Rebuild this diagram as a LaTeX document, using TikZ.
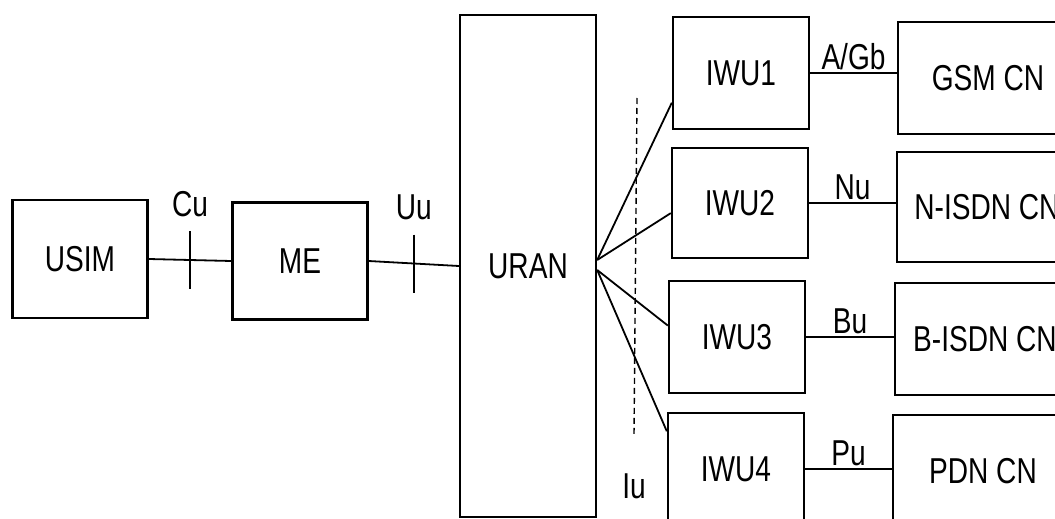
\documentclass[tikz,border=0pt]{standalone}
\usepackage{fontspec}
\setmainfont[FakeStretch=0.78]{Liberation Sans}
\usetikzlibrary{positioning, calc}
\tikzset{
	blk/.style ={rectangle, draw=black, line width=1.2pt, inner sep=0pt, align=center},
	iwubox/.style ={blk, minimum width=68pt, minimum height=56pt},
	cnbox/.style ={blk, minimum width=90pt, minimum height=56pt},
	link/.style ={line width=0.9pt},
	tickmark/.style ={line width=0.9pt},
	ifc/.style ={inner sep=0pt},
}

\begin{document}
\begin{tikzpicture}[x=0.5pt, y=-0.5pt, font=\fontsize{18}{21}\selectfont]
	\useasboundingbox (0,0) rectangle (1055,519);
	\clip (0,0) rectangle (1055,519);
	% terminal side
	\node[blk, minimum width=67.5pt, minimum height=59pt] (usim) at (80,259) {USIM};
	\node[blk, minimum width=67.5pt, minimum height=58.5pt] (me) at (300,261) {ME};
	\node[blk, minimum width=68pt, minimum height=251pt] (uran) at (528,266) {URAN};
	% interworking units
	\node[iwubox] (iwu1) at (741,73) {IWU1};
	\node[iwubox, minimum height=55pt] (iwu2) at (740,203) {IWU2};
	\node[iwubox] (iwu3) at (737,337) {IWU3};
	\node[iwubox] (iwu4) at (736,469) {IWU4};
	% core networks
	\node[cnbox] (gsm) at (988,78) {GSM CN};
	\node[cnbox, minimum height=55pt] (nisdn) at (987,207) {N-ISDN CN};
	\node[cnbox] (bisdn) at (985,339) {B-ISDN CN};
	\node[cnbox] (pdn) at (983,471) {PDN CN};
	% Cu and Uu interfaces
	\coordinate (cu) at ($(usim.east)!0.5!(me.west)$);
	\coordinate (uu) at ($(me.east)!0.5!(uran.west)$);
	\draw[link] (usim.east) -- (me.west);
	\draw[link] (me.east) -- (uran.west);
	\draw[tickmark] ([yshift=14.5pt]cu) coordinate (cutop) -- ([yshift=-14.5pt]cu);
	\draw[tickmark] ([yshift=14.5pt]uu) coordinate (uutop) -- ([yshift=-14.5pt]uu);
	\node[ifc, above=7pt of cutop] (culbl) {Cu};
	\node[ifc, above=7pt of uutop] (uulbl) {Uu};
	% Iu fan-out
	\coordinate (fanup) at ([yshift=3pt]uran.east);
	\coordinate (fandn) at ([yshift=-2pt]uran.east);
	\draw[link] (fanup) -- ($(iwu1.south west)!0.24!(iwu1.north west)$);
	\draw[link] (fanup) -- ($(iwu2.south west)!0.41!(iwu2.north west)$);
	\draw[link] (fandn) -- ($(iwu3.south west)!0.6!(iwu3.north west)$);
	\draw[link] (fandn) -- ($(iwu4.south west)!0.83!(iwu4.north west)$);
	\coordinate (iutop) at (637,98);
	\coordinate (iubot) at (634,435);
	\draw[line width=0.7pt, dash pattern=on 3pt off 2pt] (iutop) -- (iubot);
	\node[ifc, below=19pt of iubot] (iulbl) {Iu};
	% IWU to CN
	\draw[link] (iwu1.east) -- (iwu1.east -| gsm.west) node[ifc, midway, above=1pt] {A/Gb};
	\draw[link] (iwu2.east) -- (iwu2.east -| nisdn.west) node[ifc, midway, above=1pt] {Nu};
	\draw[link] (iwu3.east) -- (iwu3.east -| bisdn.west) node[ifc, midway, above=1pt] {Bu};
	\draw[link] (iwu4.east) -- (iwu4.east -| pdn.west) node[ifc, midway, above=1pt] {Pu};
\end{tikzpicture}
\end{document}
